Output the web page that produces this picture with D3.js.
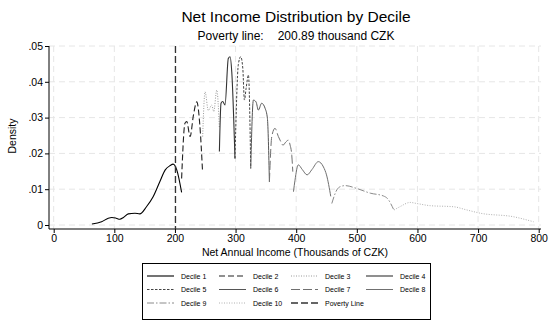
<!DOCTYPE html>
<html>
<head>
<meta charset="utf-8">
<script src="https://cdn.jsdelivr.net/npm/d3@7"></script>
<style>
  html, body { margin: 0; padding: 0; background: #fff; }
  svg { display: block; font-family: "Liberation Sans", Arial, sans-serif; }
</style>
</head>
<body>
<svg id="chart" width="549" height="321"></svg>
<script>
// Kernel density of net annual income (thousand CZK), one segment per decile
const decile1 = [[63,.0003],[79,.0009],[90,.0019],[96,.0021],[103,.0019],[109,.0016],[115,.0021],[123,.0031],[134,.0033],[142,.0031],[153,.0051],[164,.0079],[175,.0121],[184,.0154],[192,.0166],[197,.017],[203,.0154],[211,.0091]];
const decile2 = [[211,.013],[216.5,.0284],[219.5,.0289],[225,.0247],[230.5,.0307],[236,.0344],[241,.028],[245.5,.015]];
const decile3 = [[245.7,.0247],[249.7,.0372],[255,.032],[260.7,.0335],[264,.0317],[269,.0377],[273.3,.027]];
const decile4 = [[273.3,.0205],[276,.034],[278.8,.0345],[282.6,.0335],[288,.0465],[291,.047],[293.7,.0428],[299,.0186]];
const decile5 = [[299,.0186],[304.6,.0449],[308.5,.047],[311.9,.0438],[314.6,.0349],[317.4,.0382],[321.2,.0419],[325,.0158]];
const decile6 = [[325,.0158],[329.4,.0349],[333.7,.0344],[337.6,.0321],[343,.034],[348.7,.0326],[352.5,.0298],[355.8,.0121]];
const decile7 = [[355.8,.012],[359.7,.0247],[365,.027],[370.6,.0247],[373.4,.0237],[378.2,.0223],[383,.0232],[387,.0237],[390,.0223],[392.7,.0195],[394.4,.0149]];
const decile8 = [[395.5,.0093],[398,.0125],[403.5,.0168],[410,.0155],[418,.014],[426,.0155],[436.5,.0177],[445,.0162],[450,.014],[457,.008]];
const decile9 = [[458.7,.006],[467,.0098],[472.5,.0107],[480.7,.011],[500,.0102],[522,.0089],[544,.0081],[550.5,.0074],[560.5,.0044]];
const decile10 = [[561.5,.0042],[571,.0051],[588,.0063],[599,.006],[621,.0054],[659.5,.0051],[681.5,.0042],[703.5,.0033],[758.5,.0023],[791.5,.0009]];

const povertyLine = 200.89;
const xTicks = [0, 100, 200, 300, 400, 500, 600, 700, 800];
const yTicks = [0, .01, .02, .03, .04, .05];
const yTickLabels = ["0", ".01", ".02", ".03", ".04", ".05"];
const legendLabels = ["Decile 1","Decile 2","Decile 3","Decile 4","Decile 5","Decile 6","Decile 7","Decile 8","Decile 9","Decile 10","Poverty Line"];

const series = [decile1, decile2, decile3, decile4, decile5, decile6, decile7, decile8, decile9, decile10];
const styles = [
  { color: "#000000", dash: null,        width: 1.1 },
  { color: "#222222", dash: "6,3",       width: 1.1 },
  { color: "#9a9a9a", dash: "1,1.5",     width: 1.0 },
  { color: "#333333", dash: null,        width: 1.1 },
  { color: "#444444", dash: "2.5,1.5",   width: 1.0 },
  { color: "#555555", dash: null,        width: 1.0 },
  { color: "#707070", dash: "9,3",       width: 1.0 },
  { color: "#707070", dash: null,        width: 1.0 },
  { color: "#8a8a8a", dash: "7,2,1.5,2", width: 1.0 },
  { color: "#b0b0b0", dash: "1,1.5",     width: 1.0 },
  { color: "#333333", dash: "7,3",       width: 1.3 }
];

const svg = d3.select("#chart");
const x = d3.scaleLinear().domain([0, 800]).range([53.7, 538.7]);
const y = d3.scaleLinear().domain([0, .05]).range([225, 46]);
const plotLeft = 49, plotRight = 541, plotBottom = 229, plotTop = 46;

// grid
const grid = svg.append("g").attr("stroke", "#e6e6e6").attr("stroke-width", 1).attr("stroke-dasharray", "6,4");
grid.selectAll("line.h").data(yTicks).join("line")
  .attr("x1", plotLeft).attr("x2", plotRight)
  .attr("y1", d => y(d)).attr("y2", d => y(d));
grid.selectAll("line.v").data(xTicks).join("line")
  .attr("x1", d => x(d)).attr("x2", d => x(d))
  .attr("y1", plotTop).attr("y2", plotBottom);

// axes
const xAxis = d3.axisBottom(x).tickValues(xTicks).tickSize(4).tickPadding(2).tickSizeOuter(0);
const gx = svg.append("g").attr("transform", `translate(0,${plotBottom})`).call(xAxis);
gx.select(".domain").attr("d", `M${plotLeft},0H${plotRight}`);
const yAxis = d3.axisLeft(y).tickValues(yTicks).tickFormat((d, i) => yTickLabels[i]).tickSize(4).tickPadding(2).tickSizeOuter(0);
const gy = svg.append("g").attr("transform", `translate(${plotLeft},0)`).call(yAxis);
gy.select(".domain").attr("d", `M0,${plotTop}V${plotBottom}`);
svg.selectAll(".tick text").attr("font-size", 10.5).attr("fill", "#000").attr("font-family", "Liberation Sans, Arial, sans-serif");
svg.selectAll(".domain, .tick line").attr("stroke", "#000").attr("stroke-width", 1);

// density curves
const line = d3.line().x(d => x(d[0])).y(d => y(d[1])).curve(d3.curveMonotoneX);
series.forEach((s, i) => {
  svg.append("path").datum(s)
    .attr("d", line)
    .attr("fill", "none")
    .attr("stroke", styles[i].color)
    .attr("stroke-width", styles[i].width)
    .attr("stroke-dasharray", styles[i].dash);
});

// poverty line
svg.append("line")
  .attr("x1", x(povertyLine)).attr("x2", x(povertyLine))
  .attr("y1", plotTop).attr("y2", plotBottom)
  .attr("stroke", styles[10].color).attr("stroke-width", styles[10].width)
  .attr("stroke-dasharray", styles[10].dash);

// titles
svg.append("text").attr("x", 296).attr("y", 21.5).attr("text-anchor", "middle")
  .attr("font-size", 15.5).text("Net Income Distribution by Decile");
const sub = svg.append("text").attr("x", 296).attr("y", 40).attr("text-anchor", "middle").attr("font-size", 12);
sub.append("tspan").text("Poverty line:");
sub.append("tspan").attr("dx", 14).text("200.89 thousand CZK");
svg.append("text").attr("x", 295).attr("y", 256).attr("text-anchor", "middle")
  .attr("font-size", 10.5).text("Net Annual Income (Thousands of CZK)");
svg.append("text").attr("transform", "translate(16,136) rotate(-90)").attr("text-anchor", "middle")
  .attr("font-size", 10.5).text("Density");

// legend
const lg = svg.append("g");
lg.append("rect").attr("x", 142.5).attr("y", 263.5).attr("width", 288).attr("height", 56)
  .attr("fill", "#fff").attr("stroke", "#000").attr("stroke-width", 1);
const colX = [147, 219, 291, 366];
const rowY = [276, 289.5, 303];
legendLabels.forEach((lab, i) => {
  const cx = colX[i % 4], cy = rowY[Math.floor(i / 4)];
  lg.append("line").attr("x1", cx).attr("x2", cx + 27).attr("y1", cy).attr("y2", cy)
    .attr("stroke", styles[i].color).attr("stroke-width", styles[i].width)
    .attr("stroke-dasharray", styles[i].dash);
  lg.append("text").attr("x", cx + 34).attr("y", cy + 2.5).attr("font-size", 7).text(lab);
});
</script>
</body>
</html>
